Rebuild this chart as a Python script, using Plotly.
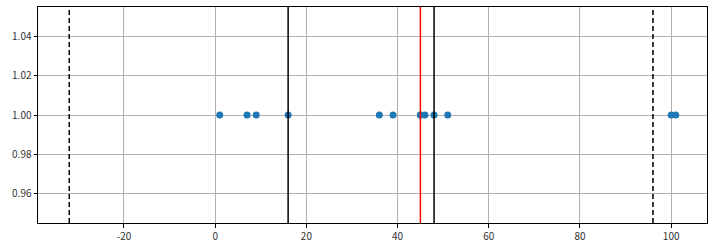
import plotly.graph_objects as go

values = [1, 7, 9, 16, 36, 39, 45, 45, 46, 48, 51, 100, 101]
y_values = [1.0] * len(values)
q1_q3 = [16, 48]
median_value = [45]
fences = [-32, 96]
x_ticks = [-20, 0, 20, 40, 60, 80, 100]
y_ticks = [0.96, 0.98, 1.00, 1.02, 1.04]

fig = go.Figure()
fig.add_trace(go.Scatter(x=values, y=y_values, mode="markers",
                         marker=dict(color="#1f77b4", size=7, line=dict(width=0)),
                         showlegend=False))

for v in q1_q3:
    fig.add_vline(x=v, line=dict(color="black", width=1.5))
for v in fences:
    fig.add_vline(x=v, line=dict(color="black", width=1.5, dash="5px,3px"))
for v in median_value:
    fig.add_vline(x=v, line=dict(color="red", width=1.5))

axis_common = dict(showgrid=True, gridcolor="#b0b0b0", gridwidth=0.8,
                   showline=True, linecolor="black", linewidth=1, mirror=True,
                   ticks="outside", ticklen=3.5, tickcolor="black", tickwidth=0.8,
                   zeroline=False, tickfont=dict(size=10, color="#333333"))

fig.update_xaxes(range=[-38.85, 107.85], tickvals=x_ticks,
                 ticktext=[str(t) for t in x_ticks], **axis_common)
fig.update_yaxes(range=[0.945, 1.055], tickvals=y_ticks,
                 ticktext=[f"{t:.2f}" for t in y_ticks], **axis_common)

fig.update_layout(width=714, height=249,
                  margin=dict(l=38, r=6, t=6, b=25),
                  plot_bgcolor="white", paper_bgcolor="white",
                  font=dict(family="Noto Sans CJK KR, Noto Sans, sans-serif", size=10))

fig.write_html("out.html")
